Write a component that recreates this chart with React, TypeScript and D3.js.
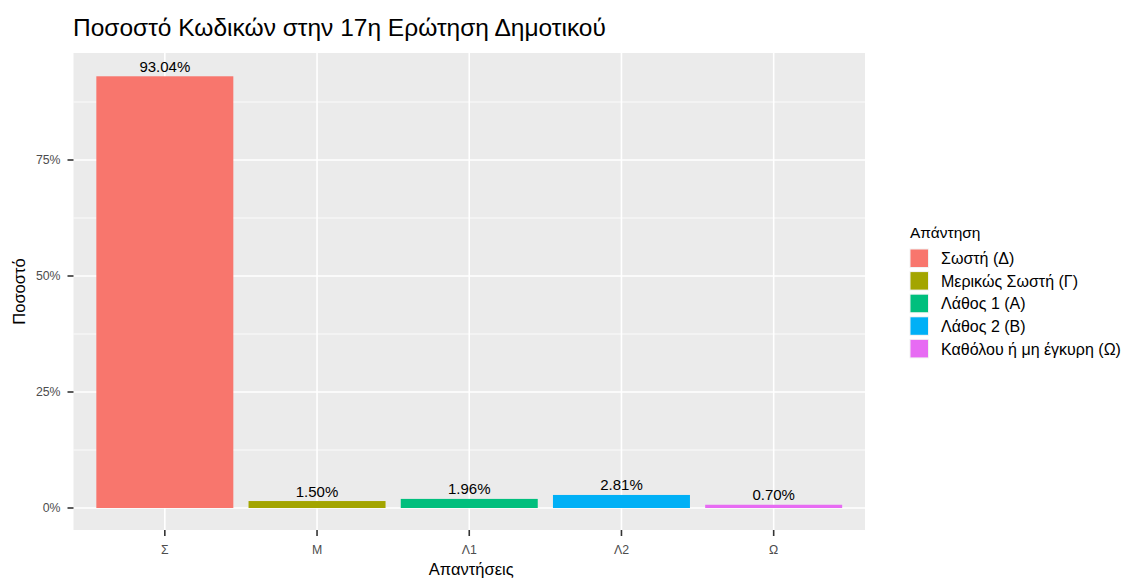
import React from "react";
import * as d3 from "d3";

const categories = ["Σ", "Μ", "Λ1", "Λ2", "Ω"];
const values = [93.04, 1.5, 1.96, 2.81, 0.7];
const legendLabels = ["Σωστή (Δ)", "Μερικώς Σωστή (Γ)", "Λάθος 1 (Α)", "Λάθος 2 (Β)", "Καθόλου ή μη έγκυρη (Ω)"];
const colors = ["#F8766D", "#A3A500", "#00BF7D", "#00B0F6", "#E76BF3"];
const yTicks = [0, 25, 50, 75];
const yMinor = [12.5, 37.5, 62.5, 87.5];

const W = 1125, H = 580;
const panel = { left: 73.5, right: 865, top: 53, bottom: 530 };
const font = "Arial, 'Liberation Sans', sans-serif";

export default function App() {
  const x = d3
    .scalePoint<string>()
    .domain(categories)
    .range([panel.left, panel.right])
    .padding(0.6);
  const unit = x.step();
  const y = d3.scaleLinear().domain([0, 75]).range([508, 160]);
  const barW = unit * 0.9;

  return (
    <svg width={W} height={H} style={{ display: "block", position: "absolute", left: 0, top: 0 }} fontFamily={font}>
      <rect width={W} height={H} fill="white" />
      <text x={73} y={36} fontSize={24.5} fill="#000">Ποσοστό Κωδικών στην 17η Ερώτηση Δημοτικού</text>
      <rect x={panel.left} y={panel.top} width={panel.right - panel.left} height={panel.bottom - panel.top} fill="#EBEBEB" />
      {yMinor.map((t) => (
        <line key={"m" + t} x1={panel.left} x2={panel.right} y1={y(t)} y2={y(t)} stroke="white" strokeWidth={0.8} />
      ))}
      {yTicks.map((t) => (
        <line key={"g" + t} x1={panel.left} x2={panel.right} y1={y(t)} y2={y(t)} stroke="white" strokeWidth={1.6} />
      ))}
      {categories.map((c) => (
        <line key={"v" + c} x1={x(c)!} x2={x(c)!} y1={panel.top} y2={panel.bottom} stroke="white" strokeWidth={1.6} />
      ))}
      {categories.map((c, i) => (
        <g key={"b" + c}>
          <rect x={x(c)! - barW / 2} y={y(values[i])} width={barW} height={y(0) - y(values[i])} fill={colors[i]} />
          <text x={x(c)!} y={y(values[i]) - 4.5} textAnchor="middle" fontSize={15} fill="#000">
            {values[i].toFixed(2) + "%"}
          </text>
        </g>
      ))}
      {yTicks.map((t) => (
        <g key={"yt" + t}>
          <line x1={panel.left - 6} x2={panel.left} y1={y(t)} y2={y(t)} stroke="#333" strokeWidth={1.6} />
          <text x={60.5} y={y(t)} dy="0.35em" textAnchor="end" fontSize={12.3} fill="#4D4D4D">{t + "%"}</text>
        </g>
      ))}
      {categories.map((c) => (
        <g key={"xt" + c}>
          <line x1={x(c)!} x2={x(c)!} y1={panel.bottom} y2={panel.bottom + 6} stroke="#333" strokeWidth={1.6} />
          <text x={x(c)!} y={554} textAnchor="middle" fontSize={12.3} fill="#4D4D4D">{c}</text>
        </g>
      ))}
      <text x={(panel.left + panel.right) / 2 + 2} y={575} textAnchor="middle" fontSize={16.5} fill="#000">Απαντήσεις</text>
      <text transform={`translate(25, ${(panel.top + panel.bottom) / 2}) rotate(-90)`} textAnchor="middle" fontSize={16.5} fill="#000">Ποσοστό</text>
      <text x={910} y={238.3} fontSize={15.5} fill="#000">Απάντηση</text>
      {legendLabels.map((l, i) => (
        <g key={"l" + i}>
          <rect x={909.5} y={248.5 + i * 22.6} width={19.5} height={19.5} fill="#F2F2F2" />
          <rect x={910.5} y={249.5 + i * 22.6} width={17.5} height={17.5} fill={colors[i]} />
          <text x={941} y={258.5 + i * 22.6} dy="0.35em" fontSize={16} fill="#000">{l}</text>
        </g>
      ))}
    </svg>
  );
}
